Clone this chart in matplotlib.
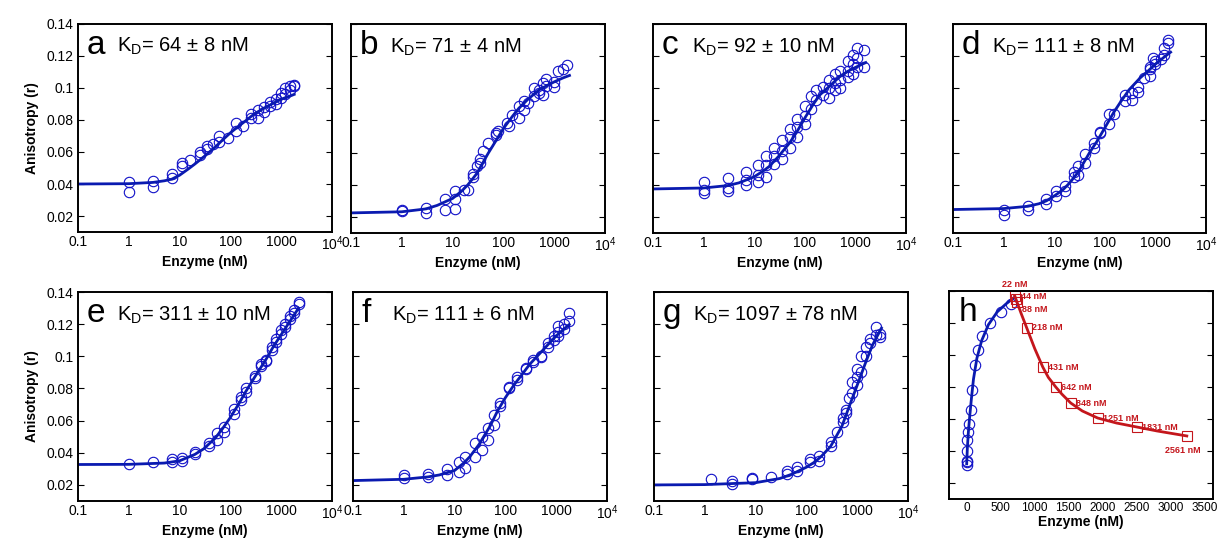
import matplotlib
matplotlib.use("Agg")
import matplotlib.pyplot as plt
from matplotlib.ticker import FixedLocator, FixedFormatter

plt.rcParams['font.family'] = ['Liberation Sans', 'DejaVu Sans']
plt.rcParams['mathtext.fontset'] = 'custom'
plt.rcParams['mathtext.rm'] = 'Liberation Sans'

# ---- data ----
# panel a
x_a = [1, 1, 3, 3, 7, 7, 11, 11, 16, 25, 25, 35, 35, 45, 60, 60, 90, 130, 130, 180,
       250, 250, 350, 350, 450, 450, 600, 600, 800, 800, 1000, 1000, 1200, 1200, 1500, 1500, 1800, 1800]
y_a = [0.041, 0.035, 0.042, 0.038, 0.046, 0.044, 0.053, 0.051, 0.055, 0.060, 0.058, 0.064, 0.062, 0.065,
       0.070, 0.066, 0.069, 0.078, 0.073, 0.076, 0.081, 0.084, 0.081, 0.086, 0.085, 0.088, 0.091, 0.089,
       0.093, 0.090, 0.097, 0.094, 0.100, 0.096, 0.099, 0.101, 0.102, 0.101]
fx_a = [0.1, 1, 3, 5, 7, 10, 15, 20, 30, 50, 70, 100, 150, 200, 300, 500, 700, 1000, 1500, 1800]
fy_a = [0.0400, 0.0402, 0.0410, 0.0420, 0.0430, 0.0455, 0.0495, 0.0525, 0.0570, 0.0630, 0.0675, 0.0720,
        0.0765, 0.0795, 0.0840, 0.0880, 0.0905, 0.0930, 0.0950, 0.0960]

# panel b
x_b = [1, 1, 3, 3, 7, 7, 11, 11, 11, 17, 20, 25, 25, 30, 35, 35, 40, 50, 70, 70, 80, 120, 130, 150,
       200, 200, 250, 250, 300, 400, 400, 500, 500, 600, 600, 700, 700, 1000, 1000, 1200, 1500, 1800]
y_b = [0.0246, 0.0235, 0.0256, 0.0225, 0.031, 0.0245, 0.036, 0.031, 0.025, 0.0366, 0.037, 0.047, 0.045,
       0.0515, 0.056, 0.0535, 0.061, 0.066, 0.071, 0.0725, 0.0733, 0.0785, 0.0765, 0.0837, 0.089, 0.0816,
       0.092, 0.0868, 0.091, 0.1003, 0.095, 0.099, 0.097, 0.1034, 0.096, 0.1055, 0.1013, 0.104, 0.101,
       0.1107, 0.1117, 0.1148]
fx_b = [0.1, 1, 3, 5, 10, 15, 20, 30, 50, 70, 100, 150, 200, 300, 500, 700, 1000, 1500, 2000]
fy_b = [0.0225, 0.0232, 0.0250, 0.0272, 0.0315, 0.0360, 0.0400, 0.0470, 0.0595, 0.0670, 0.0750, 0.0825,
        0.0875, 0.0930, 0.0990, 0.1015, 0.1040, 0.1065, 0.1080]

# panel c
x_c = [1, 1, 1, 3, 3, 3, 7, 7, 7, 12, 12, 12, 17, 17, 17, 25, 25, 25, 35, 35, 35, 50, 50, 50,
       70, 70, 70, 100, 100, 100, 130, 130, 170, 170, 230, 230, 300, 300, 300, 400, 400, 400,
       500, 500, 500, 700, 700, 700, 900, 900, 900, 1100, 1100, 1100, 1500, 1500]
y_c = [0.0415, 0.0366, 0.035, 0.0445, 0.038, 0.036, 0.048, 0.043, 0.040, 0.052, 0.046, 0.042,
       0.058, 0.052, 0.045, 0.063, 0.058, 0.053, 0.068, 0.061, 0.056, 0.075, 0.070, 0.063,
       0.081, 0.076, 0.070, 0.089, 0.083, 0.078, 0.095, 0.087, 0.099, 0.093, 0.101, 0.096,
       0.105, 0.100, 0.094, 0.109, 0.103, 0.099, 0.111, 0.105, 0.100, 0.117, 0.111, 0.107,
       0.121, 0.115, 0.109, 0.125, 0.119, 0.113, 0.124, 0.113]
fx_c = [0.1, 1, 3, 5, 7, 10, 15, 20, 30, 50, 70, 100, 150, 200, 300, 500, 700, 1000, 1600]
fy_c = [0.0374, 0.0380, 0.0395, 0.0412, 0.0430, 0.0450, 0.0485, 0.0515, 0.0575, 0.0660, 0.0730, 0.0815,
        0.0905, 0.0960, 0.1010, 0.1075, 0.1105, 0.1130, 0.1160]

# panel d
x_d = [1, 1, 3, 3, 7, 7, 11, 11, 16, 16, 25, 25, 30, 30, 40, 40, 60, 60, 80, 80, 120, 120, 150,
       250, 250, 350, 350, 450, 450, 600, 800, 800, 800, 900, 1000, 1000, 1300, 1500, 1500, 1800, 1800]
y_d = [0.024, 0.0215, 0.027, 0.0245, 0.031, 0.028, 0.036, 0.033, 0.039, 0.036, 0.048, 0.045,
       0.0515, 0.046, 0.059, 0.0536, 0.066, 0.063, 0.073, 0.072, 0.084, 0.0775, 0.084,
       0.096, 0.092, 0.097, 0.093, 0.101, 0.098, 0.1065, 0.1075, 0.113, 0.112, 0.119, 0.117, 0.115,
       0.118, 0.121, 0.125, 0.130, 0.128]
fx_d = [0.1, 1, 3, 5, 7, 10, 15, 20, 30, 50, 70, 100, 150, 200, 300, 500, 700, 1000, 1500, 2000]
fy_d = [0.0246, 0.0252, 0.0266, 0.0282, 0.0300, 0.0330, 0.0370, 0.0410, 0.0480, 0.0600, 0.0670, 0.0754,
        0.0850, 0.0910, 0.0990, 0.1065, 0.1105, 0.1150, 0.1195, 0.1225]

# panel e
x_e = [1, 3, 7, 7, 11, 11, 20, 20, 38, 38, 55, 55, 75, 75, 120, 120, 160, 160, 200, 200,
       300, 300, 400, 400, 500, 500, 650, 650, 800, 800, 1000, 1000, 1200, 1200, 1500, 1500,
       1800, 1800, 2200, 2200]
y_e = [0.0333, 0.034, 0.036, 0.034, 0.0367, 0.035, 0.0406, 0.039, 0.046, 0.044, 0.052, 0.048,
       0.056, 0.053, 0.0675, 0.064, 0.075, 0.073, 0.080, 0.078, 0.0878, 0.0863, 0.095, 0.0937,
       0.098, 0.097, 0.106, 0.104, 0.111, 0.109, 0.1165, 0.114, 0.120, 0.118, 0.125, 0.123,
       0.129, 0.127, 0.1335, 0.1325]
fx_e = [0.1, 1, 5, 10, 20, 30, 50, 70, 100, 150, 200, 300, 500, 700, 1000, 1500, 2200]
fy_e = [0.0327, 0.0328, 0.0336, 0.0350, 0.0390, 0.0425, 0.0490, 0.0550, 0.0620, 0.0710, 0.0780,
        0.0870, 0.0980, 0.1060, 0.1135, 0.1220, 0.1300]

# panel f
x_f = [1, 1, 3, 3, 7, 7, 12, 12, 16, 16, 25, 25, 35, 35, 45, 45, 60, 60, 80, 80, 120, 120,
       170, 170, 250, 250, 350, 350, 500, 500, 700, 700, 900, 900, 1100, 1100, 1100, 1400, 1400, 1800, 1800]
y_f = [0.0262, 0.024, 0.0268, 0.0247, 0.0297, 0.0262, 0.0345, 0.0283, 0.0376, 0.0304, 0.046, 0.0376,
       0.050, 0.0418, 0.0555, 0.048, 0.0638, 0.0575, 0.071, 0.069, 0.081, 0.080, 0.087, 0.085,
       0.093, 0.092, 0.098, 0.0965, 0.1005, 0.0995, 0.108, 0.1055, 0.1125, 0.110, 0.119, 0.115,
       0.1125, 0.120, 0.117, 0.127, 0.122]
fx_f = [0.1, 1, 3, 5, 10, 15, 20, 30, 50, 70, 100, 150, 200, 300, 500, 700, 1000, 1800]
fy_f = [0.0227, 0.0235, 0.0250, 0.0262, 0.0290, 0.0335, 0.0376, 0.0450, 0.0566, 0.0660, 0.0743,
        0.0825, 0.0876, 0.0950, 0.1025, 0.1075, 0.1127, 0.1197]

# panel g
x_g = [1.3, 3.5, 3.5, 8.5, 8.5, 20, 42, 42, 65, 65, 120, 120, 180, 180, 300, 300, 400, 520, 520,
       600, 600, 700, 800, 800, 1000, 1000, 1000, 1200, 1200, 1500, 1500, 1800, 1800, 2300, 2300, 2800, 2800]
y_g = [0.0235, 0.0225, 0.0205, 0.0245, 0.0235, 0.025, 0.0287, 0.0267, 0.031, 0.0287, 0.036, 0.034,
       0.038, 0.035, 0.0465, 0.044, 0.053, 0.0615, 0.059, 0.0665, 0.0645, 0.0738, 0.084, 0.077,
       0.092, 0.087, 0.082, 0.100, 0.090, 0.106, 0.100, 0.111, 0.108, 0.1185, 0.113, 0.114, 0.112]
fx_g = [0.1, 1, 10, 30, 50, 100, 150, 200, 300, 500, 700, 1000, 1500, 2000, 3000]
fy_g = [0.0200, 0.0202, 0.0214, 0.0240, 0.0265, 0.0310, 0.0345, 0.0380, 0.0440, 0.0565, 0.0690,
        0.0820, 0.0970, 0.1070, 0.1175]

# panel h (linear axis)
x_h = [0, 0, 0, 5, 10, 15, 30, 59, 84, 118, 167, 230, 338, 500, 657]
y_h = [0.031, 0.033, 0.034, 0.040, 0.047, 0.052, 0.057, 0.0656, 0.078, 0.094, 0.103, 0.112, 0.120, 0.127, 0.132]
fx_h = [0, 10, 25, 45, 70, 100, 150, 220, 320, 450, 580, 700]
fy_h = [0.032, 0.042, 0.052, 0.062, 0.073, 0.085, 0.098, 0.109, 0.119, 0.127, 0.132, 0.136]
red_x = [706, 720, 735, 882, 1118, 1309, 1529, 1926, 2500, 3235]
red_y = [0.137, 0.135, 0.133, 0.117, 0.0925, 0.080, 0.070, 0.0606, 0.055, 0.0494]
red_labels = ["22 nM", "44 nM", "88 nM", "218 nM", "431 nM", "642 nM", "848 nM",
              "1251 nM", "1831 nM", "2561 nM"]
redfit_x = [706, 800, 900, 1000, 1118, 1200, 1309, 1400, 1529, 1700, 1926, 2200, 2500, 2800, 3235]
redfit_y = [0.137, 0.126, 0.115, 0.104, 0.0925, 0.086, 0.080, 0.0755, 0.070, 0.065, 0.0606, 0.0575,
            0.055, 0.0525, 0.0494]

letters = ["a", "b", "c", "d", "e", "f", "g", "h"]
kd_text = ["64 ± 8 nM", "71 ± 4 nM", "92 ± 10 nM", "111 ± 8 nM",
           "311 ± 10 nM", "111 ± 6 nM", "1097 ± 78 nM"]
log_ticks = [0.1, 1, 10, 100, 1000, 10000]
log_labels = ["0.1", "1", "10", "100", "1000", r"10$^\mathregular{4}$"]
y_ticks = [0.02, 0.04, 0.06, 0.08, 0.1, 0.12, 0.14]
y_labels = ["0.02", "0.04", "0.06", "0.08", "0.1", "0.12", "0.14"]
h_ticks = [0, 500, 1000, 1500, 2000, 2500, 3000, 3500]

# pixel boxes (left, top, right, bottom)
boxes = [(78, 24, 332, 232), (351, 24, 605, 233), (653, 24, 906, 233), (953, 24, 1206, 233),
         (78, 292, 332, 501), (353, 292, 607, 501), (654, 292, 908, 501), (949, 291, 1213, 499)]

W, H = 1219, 539
BLUE = "#1010c8"
LINE = "#0a1ab0"
RED = "#c4161c"

fig = plt.figure(figsize=(W / 100, H / 100), dpi=100)

series = [(x_a, y_a, fx_a, fy_a), (x_b, y_b, fx_b, fy_b), (x_c, y_c, fx_c, fy_c),
          (x_d, y_d, fx_d, fy_d), (x_e, y_e, fx_e, fy_e), (x_f, y_f, fx_f, fy_f),
          (x_g, y_g, fx_g, fy_g)]

for i, (l, t, r, b) in enumerate(boxes):
    ax = fig.add_axes([l / W, 1 - b / H, (r - l) / W, (b - t) / H])
    for s in ax.spines.values():
        s.set_linewidth(1.4)
    ax.set_ylim(0.01, 0.14)
    ax.yaxis.set_major_locator(FixedLocator(y_ticks))
    ax.tick_params(axis="y", direction="in", right=True, length=4, width=0.8, labelsize=10)
    ax.tick_params(axis="x", direction="in", length=0, labelsize=10, pad=2)
    if i in (0, 4):
        ax.yaxis.set_major_formatter(FixedFormatter(y_labels))
        ax.set_ylabel("Anisotropy (r)", fontsize=10, fontweight="bold", labelpad=5)
    else:
        ax.set_yticklabels([])
    ax.set_xlabel("Enzyme (nM)", fontsize=10, fontweight="bold", labelpad=1)

    ax.text(0.035, 0.855, letters[i], transform=ax.transAxes, fontsize=24,
            va="baseline", ha="left")
    if i < 7:
        xs, ys, fx, fy = series[i]
        ax.set_xscale("log")
        ax.set_xlim(0.1, 10000)
        ax.xaxis.set_major_locator(FixedLocator(log_ticks))
        ax.xaxis.set_major_formatter(FixedFormatter(log_labels))
        ax.xaxis.set_minor_locator(FixedLocator([]))
        ax.plot(xs, ys, "o", ms=7.5, mfc="none", mec=BLUE, mew=0.8)
        ax.plot(fx, fy, "-", color=LINE, lw=2)
        ax.text(0.155, 0.865, r"K$_\mathregular{D}$= " + kd_text[i], transform=ax.transAxes,
                fontsize=14.5, va="baseline", ha="left")
    else:
        ax.set_xlim(-260, 3620)
        ax.set_xticks(h_ticks)
        ax.tick_params(axis="x", labelsize=8.5)
        ax.plot(x_h, y_h, "o", ms=7.5, mfc="none", mec=BLUE, mew=0.8)
        ax.plot(fx_h, fy_h, "-", color=LINE, lw=2)
        ax.plot(redfit_x, redfit_y, "-", color=RED, lw=2)
        ax.plot(red_x, red_y, "s", ms=7, mfc="none", mec=RED, mew=0.8, clip_on=False)
        for j, (rx, ry, lab) in enumerate(zip(red_x, red_y, red_labels)):
            if j == 0:
                off, ha, va = (0, 5), "center", "bottom"
            elif j == len(red_x) - 1:
                off, ha, va = (-3, -7), "center", "top"
            else:
                off, ha, va = (4, 0 if j > 2 else (2 if j == 1 else -5)), "left", "center"
            ax.annotate(lab, (rx, ry), xytext=off, textcoords="offset points",
                        fontsize=6.5, color=RED, fontweight="bold", ha=ha, va=va)

fig.savefig("out.png", dpi=100)
